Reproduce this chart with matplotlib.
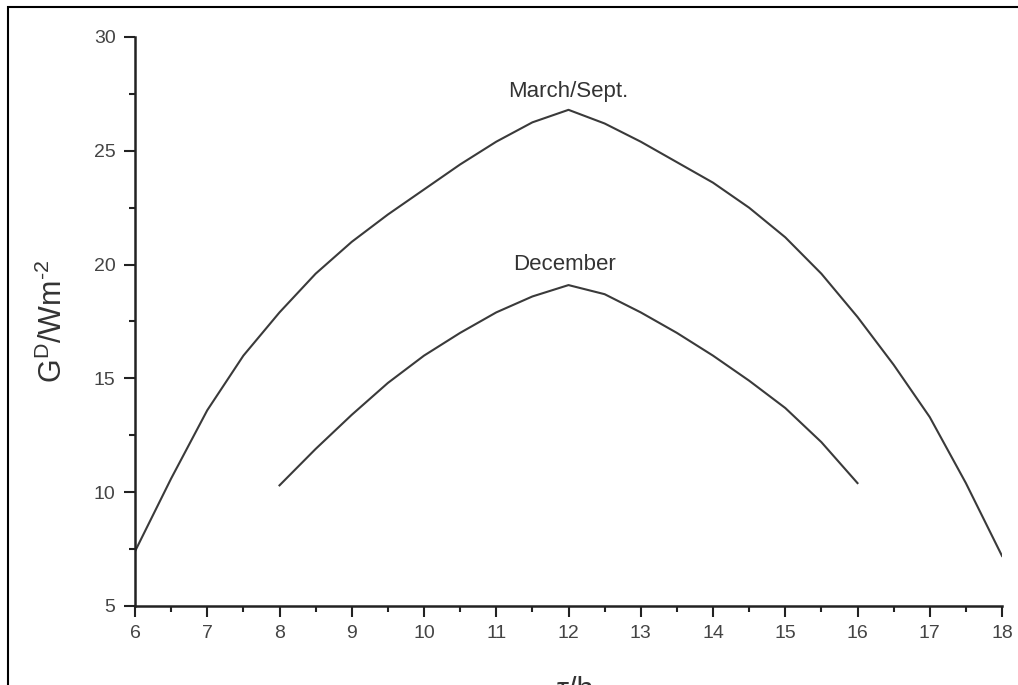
import matplotlib
matplotlib.use('Agg')
import matplotlib.pyplot as plt
from matplotlib.patches import Rectangle
from matplotlib.ticker import MultipleLocator

plt.rcParams['font.family'] = ['Liberation Sans', 'DejaVu Sans']

# hour of day, read every half hour off the original
hours_ms = [6, 6.5, 7, 7.5, 8, 8.5, 9, 9.5, 10, 10.5, 11, 11.5, 12,
            12.5, 13, 13.5, 14, 14.5, 15, 15.5, 16, 16.5, 17, 17.5, 18]
g_march_sept = [7.4, 10.6, 13.6, 16.0, 17.9, 19.6, 21.0, 22.2, 23.3, 24.4, 25.4, 26.25, 26.8,
                26.2, 25.4, 24.5, 23.6, 22.5, 21.2, 19.6, 17.7, 15.6, 13.3, 10.4, 7.2]

hours_dec = [8, 8.5, 9, 9.5, 10, 10.5, 11, 11.5, 12, 12.5, 13, 13.5, 14, 14.5, 15, 15.5, 16]
g_december = [10.3, 11.9, 13.4, 14.8, 16.0, 17.0, 17.9, 18.6, 19.1,
              18.7, 17.9, 17.0, 16.0, 14.9, 13.7, 12.2, 10.4]

fig = plt.figure(figsize=(10.18, 6.85), dpi=100)
ax = fig.add_axes([135 / 1018, 1 - 606 / 685, (1002 - 135) / 1018, (606 - 37) / 685])

ax.plot(hours_ms, g_march_sept, color='#3a3a3a', lw=1.5, solid_joinstyle='round')
ax.plot(hours_dec, g_december, color='#3a3a3a', lw=1.5, solid_joinstyle='round')

ax.text(12, 27.6, 'March/Sept.', ha='center', va='center', fontsize=16, color='#333333')
ax.text(11.95, 20.0, 'December', ha='center', va='center', fontsize=16, color='#333333')

ax.set_xlim(6, 18)
ax.set_ylim(5, 30)
ax.xaxis.set_major_locator(MultipleLocator(1))
ax.xaxis.set_minor_locator(MultipleLocator(0.5))
ax.yaxis.set_major_locator(MultipleLocator(5))
ax.yaxis.set_minor_locator(MultipleLocator(2.5))

for side in ['top', 'right']:
    ax.spines[side].set_visible(False)
for side in ['left', 'bottom']:
    ax.spines[side].set_linewidth(1.8)
    ax.spines[side].set_color('#222222')

ax.tick_params(which='major', direction='out', length=8, width=1.5, labelsize=14,
               colors='#222222', labelcolor='#444444', pad=6)
ax.tick_params(which='minor', direction='out', length=4, width=1.5, colors='#222222')

ax.set_ylabel('G$^{\\mathregular{D}}$/Wm$^{\\mathregular{‐2}}$', fontsize=22, color='#333333', labelpad=18)
fig.text(575 / 1018, 1 - 676 / 685, 'τ/h', ha='center', va='top', fontsize=22, color='#333333')

# outer frame of the original figure (cropped at right and bottom)
fig.patches.append(Rectangle((8 / 1018, -0.2), 1.5, 1.2 - 7 / 685, transform=fig.transFigure,
                             fill=False, edgecolor='black', lw=1.5))

fig.savefig('out.png', dpi=100)
